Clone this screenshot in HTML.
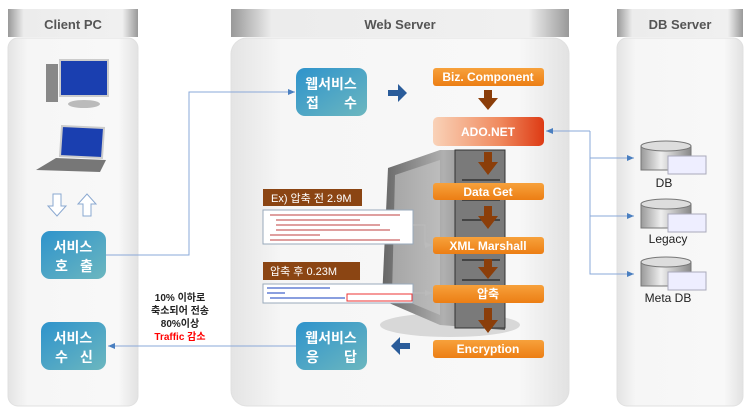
<!DOCTYPE html>
<html><head><meta charset="utf-8"><style>
html,body{margin:0;padding:0;background:#fff;}
body{width:750px;height:410px;overflow:hidden;font-family:"Liberation Sans","Noto Sans CJK KR",sans-serif;}
</style></head><body>
<svg width="750" height="410" viewBox="0 0 750 410" xmlns="http://www.w3.org/2000/svg" font-family="Liberation Sans, Noto Sans CJK KR, sans-serif">
<defs>
<linearGradient id="pan" x1="0" x2="1" y1="0" y2="0"><stop offset="0" stop-color="#e4e4e4"/><stop offset="0.15" stop-color="#f6f6f6"/><stop offset="0.85" stop-color="#f8f8f8"/><stop offset="1" stop-color="#e2e2e2"/></linearGradient>
<linearGradient id="hdr" x1="0" x2="1"><stop offset="0" stop-color="#999"/><stop offset="0.12" stop-color="#ececec"/><stop offset="0.88" stop-color="#f0f0f0"/><stop offset="1" stop-color="#999"/></linearGradient>
<linearGradient id="blue" x1="0" y1="0" x2="1" y2="1"><stop offset="0" stop-color="#2e93cc"/><stop offset="1" stop-color="#6cb7bf"/></linearGradient>
<linearGradient id="org" x1="0" y1="0" x2="0" y2="1"><stop offset="0" stop-color="#f7a13b"/><stop offset="1" stop-color="#ec7e14"/></linearGradient>
<linearGradient id="ado" x1="0" x2="1"><stop offset="0" stop-color="#f9d2b8"/><stop offset="0.6" stop-color="#f08a5e"/><stop offset="1" stop-color="#dd3a14"/></linearGradient>
<linearGradient id="srv" x1="0" x2="1"><stop offset="0" stop-color="#666"/><stop offset="0.5" stop-color="#b0b0b0"/><stop offset="1" stop-color="#666"/></linearGradient>
<linearGradient id="db" x1="0" x2="1"><stop offset="0" stop-color="#999"/><stop offset="0.4" stop-color="#eee"/><stop offset="1" stop-color="#888"/></linearGradient>
<marker id="ar" markerWidth="8" markerHeight="8" refX="7" refY="4" orient="auto"><path d="M0,1 L7,4 L0,7z" fill="#4a7fc0"/></marker>
<marker id="ag" markerWidth="8" markerHeight="8" refX="7" refY="4" orient="auto"><path d="M0,1 L7,4 L0,7z" fill="#bbb"/></marker>
</defs>
<rect x="8" y="38" width="130" height="368" rx="10" fill="url(#pan)" stroke="#e0e0e0"/>
<rect x="8" y="9" width="130" height="28" fill="url(#hdr)"/>
<text x="73" y="29" font-size="13" font-weight="bold" fill="#555" text-anchor="middle">Client PC</text>
<rect x="231" y="38" width="338" height="368" rx="16" fill="url(#pan)" stroke="#e0e0e0"/>
<rect x="231" y="9" width="338" height="28" fill="url(#hdr)"/>
<text x="400" y="29" font-size="13" font-weight="bold" fill="#555" text-anchor="middle">Web Server</text>
<rect x="617" y="38" width="126" height="368" rx="10" fill="url(#pan)" stroke="#e0e0e0"/>
<rect x="617" y="9" width="126" height="28" fill="url(#hdr)"/>
<text x="680" y="29" font-size="13" font-weight="bold" fill="#555" text-anchor="middle">DB Server</text>
<rect x="46" y="64" width="12" height="38" fill="#888"/>
<rect x="60" y="60" width="48" height="36" fill="#1a3fb0" stroke="#ccc" stroke-width="2"/>
<ellipse cx="84" cy="104" rx="16" ry="4" fill="#bbb"/>
<path d="M62,126 L104,128 L102,158 L60,156z" fill="#1a3fb0" stroke="#ccc" stroke-width="2"/>
<path d="M56,158 L106,160 L100,172 L36,170z" fill="#777"/>
<path d="M53,194 h8 v12 h5 l-9,10 l-9,-10 h5z" fill="#fff" stroke="#8aa8d0"/>
<path d="M83,216 h8 v-12 h5 l-9,-10 l-9,10 h5z" fill="#fff" stroke="#8aa8d0"/>
<ellipse cx="450" cy="325" rx="70" ry="12" fill="#d8d8d8"/>
<path d="M388,168 L440,150 L505,150 L505,330 L440,325 L382,300z" fill="url(#srv)"/>
<path d="M395,175 L440,160 L440,315 L392,295z" fill="#c8c8c8" opacity="0.6"/>
<rect x="455" y="150" width="50" height="178" fill="#7a7a7a" stroke="#333"/>
<g stroke="#333" stroke-width="1.5"><line x1="462" y1="180" x2="500" y2="180"/><line x1="462" y1="200" x2="500" y2="200"/><line x1="462" y1="220" x2="500" y2="220"/><line x1="462" y1="240" x2="500" y2="240"/><line x1="462" y1="260" x2="500" y2="260"/><line x1="462" y1="280" x2="500" y2="280"/><line x1="462" y1="300" x2="500" y2="300"/></g>
<g font-size="14" font-weight="bold" fill="#fff">
<rect x="296" y="68" width="71" height="48" rx="9" fill="url(#blue)"/>
<text x="331" y="89" text-anchor="middle">웹서비스</text><text x="306" y="108">접</text><text x="344" y="108">수</text>
<rect x="41" y="231" width="65" height="48" rx="9" fill="url(#blue)"/>
<text x="73" y="252" text-anchor="middle">서비스</text><text x="55" y="271">호</text><text x="80" y="271">출</text>
<rect x="41" y="322" width="65" height="48" rx="9" fill="url(#blue)"/>
<text x="73" y="343" text-anchor="middle">서비스</text><text x="55" y="362">수</text><text x="80" y="362">신</text>
<rect x="296" y="322" width="71" height="48" rx="9" fill="url(#blue)"/>
<text x="331" y="343" text-anchor="middle">웹서비스</text><text x="306" y="362">응</text><text x="344" y="362">답</text>
</g>
<path d="M388,90 h10 v-6 l9,9 l-9,9 v-6 h-10z" fill="#2a5c9a"/>
<path d="M410,343 h-10 v-6 l-9,9 l9,9 v-6 h10z" fill="#2a5c9a"/>
<polyline points="106,255 189,255 189,92 295,92" fill="none" stroke="#8aa8d8" marker-end="url(#ar)"/>
<line x1="296" y1="346" x2="108" y2="346" stroke="#8aa8d8" marker-end="url(#ar)"/>
<text x="180" y="301" font-size="10" font-weight="bold" fill="#222" text-anchor="middle">10% 이하로</text>
<text x="180" y="314" font-size="10" font-weight="bold" fill="#222" text-anchor="middle">축소되어 전송</text>
<text x="180" y="327" font-size="10" font-weight="bold" fill="#222" text-anchor="middle">80%이상</text>
<text x="180" y="340" font-size="10" font-weight="bold" fill="#f00" text-anchor="middle">Traffic 감소</text>
<g font-size="12" font-weight="bold" fill="#fff" text-anchor="middle">
<rect x="433" y="68" width="111" height="18" rx="3" fill="url(#org)"/><text x="488" y="81">Biz. Component</text>
<rect x="433" y="117" width="111" height="29" rx="5" fill="url(#ado)"/><text x="488" y="136">ADO.NET</text>
<rect x="433" y="183" width="111" height="17" rx="3" fill="url(#org)"/><text x="488" y="196">Data Get</text>
<rect x="433" y="237" width="111" height="17" rx="3" fill="url(#org)"/><text x="488" y="250">XML Marshall</text>
<rect x="433" y="285" width="111" height="18" rx="3" fill="url(#org)"/><text x="488" y="298">압축</text>
<rect x="433" y="340" width="111" height="18" rx="3" fill="url(#org)"/><text x="488" y="353">Encryption</text>
</g>
<g fill="#8b3e0a">
<path d="M484,90 h8 v8 h6 l-10,12 l-10,-12 h6z"/>
<path d="M484,152 h8 v10 h6 l-10,13 l-10,-13 h6z"/>
<path d="M484,206 h8 v10 h6 l-10,13 l-10,-13 h6z"/>
<path d="M484,259 h8 v8 h6 l-10,12 l-10,-12 h6z"/>
<path d="M484,308 h8 v12 h6 l-10,13 l-10,-13 h6z"/>
</g>
<rect x="263" y="189" width="99" height="17" fill="#8b4513"/>
<text x="271" y="202" font-size="11" fill="#fff">Ex) 압축 전 2.9M</text>
<rect x="263" y="210" width="150" height="34" fill="#fff" stroke="#9ab"/>
<g stroke="#c66" stroke-width="1.2"><line x1="270" y1="215" x2="400" y2="215"/><line x1="276" y1="220" x2="360" y2="220"/><line x1="276" y1="225" x2="380" y2="225"/><line x1="276" y1="230" x2="390" y2="230"/><line x1="270" y1="235" x2="320" y2="235"/><line x1="270" y1="240" x2="400" y2="240"/></g>
<rect x="263" y="262" width="97" height="18" fill="#8b4513"/>
<text x="270" y="275" font-size="11" fill="#fff">압축 후 0.23M</text>
<rect x="263" y="284" width="150" height="19" fill="#fff" stroke="#9ab"/>
<g stroke="#46c" stroke-width="1.2"><line x1="267" y1="288" x2="330" y2="288"/><line x1="267" y1="293" x2="285" y2="293"/><line x1="270" y1="298" x2="345" y2="298"/></g>
<rect x="347" y="294" width="65" height="7" fill="none" stroke="#e33"/>
<polyline points="413,225 425,225 425,245 432,245" fill="none" stroke="#bbb" marker-end="url(#ag)"/>
<line x1="413" y1="293" x2="432" y2="293" stroke="#bbb" marker-end="url(#ag)"/>
<line x1="590" y1="131" x2="546" y2="131" stroke="#8aa8d8" marker-end="url(#ar)"/>
<polyline points="590,131 590,274 634,274" fill="none" stroke="#8aa8d8" marker-end="url(#ar)"/>
<line x1="590" y1="158" x2="634" y2="158" stroke="#8aa8d8" marker-end="url(#ar)"/>
<line x1="590" y1="216" x2="634" y2="216" stroke="#8aa8d8" marker-end="url(#ar)"/>
<g id="dbi">
<rect x="641" y="146" width="50" height="24" fill="url(#db)" stroke="#777"/>
<ellipse cx="666" cy="146" rx="25" ry="5" fill="#ddd" stroke="#777"/>
<rect x="668" y="156" width="38" height="18" fill="#eef" stroke="#aab"/>
</g>
<use href="#dbi" y="58"/>
<use href="#dbi" y="116"/>
<g font-size="12" fill="#222" text-anchor="middle">
<text x="664" y="187">DB</text><text x="668" y="243">Legacy</text><text x="668" y="302">Meta DB</text>
</g>
</svg>
</body></html>
